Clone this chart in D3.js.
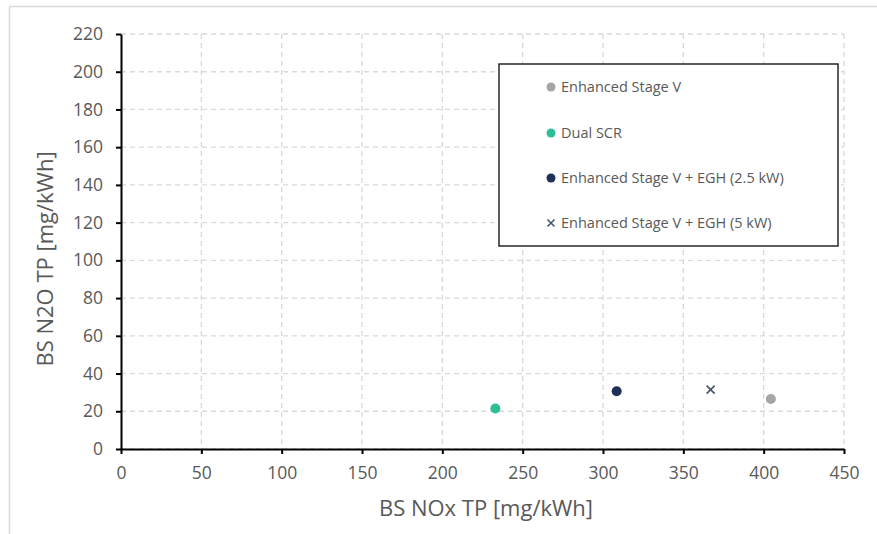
<!DOCTYPE html>
<html lang="en">
<head>
<meta charset="utf-8">
<title>BS N2O vs BS NOx</title>
<script src="https://cdn.jsdelivr.net/npm/d3@7"></script>
<style>
  body { margin: 0; background: #fff; }
  text { font-family: "Open Sans", "Noto Sans", sans-serif; }
</style>
</head>
<body>
<script>
// data
var seriesNames = ["Enhanced Stage V", "Dual SCR", "Enhanced Stage V + EGH (2.5 kW)", "Enhanced Stage V + EGH (5 kW)"];
var noxValues = [404.5, 233, 308.5, 367];
var n2oValues = [26.5, 21.5, 30.6, 31.5];
var seriesColors = ["#A5A5A5", "#2DBE97", "#1F3057", "#44546A"];
var seriesShapes = ["circle", "circle", "circle", "cross"];
var xTicks = [0, 50, 100, 150, 200, 250, 300, 350, 400, 450];
var yTicks = [0, 20, 40, 60, 80, 100, 120, 140, 160, 180, 200, 220];

var w = 877, h = 534;
var plotL = 121, plotR = 844, plotT = 34, plotB = 449;

var svg = d3.select("body").append("svg")
  .attr("width", w)
  .attr("height", h);

// outer frame (only top + left edges show)
svg.append("line").attr("x1", 9.5).attr("x2", w).attr("y1", 6.5).attr("y2", 6.5)
  .attr("stroke", "#D9D9D9").attr("stroke-width", 1.5);
svg.append("line").attr("x1", 9.5).attr("x2", 9.5).attr("y1", 6.5).attr("y2", h)
  .attr("stroke", "#D9D9D9").attr("stroke-width", 1.5);

var x = d3.scaleLinear().domain([0, 450]).range([plotL, plotR]);
var y = d3.scaleLinear().domain([0, 220]).range([plotB, plotT]);

// dashed grid
svg.append("g").selectAll("line")
  .data(xTicks.slice(1))
  .enter().append("line")
  .attr("x1", function(d) { return x(d); })
  .attr("x2", function(d) { return x(d); })
  .attr("y1", plotT).attr("y2", plotB)
  .attr("stroke", "#D9D9D9").attr("stroke-width", 1.3)
  .attr("stroke-dasharray", "5,4");
svg.append("g").selectAll("line")
  .data(yTicks)
  .enter().append("line")
  .attr("x1", plotL).attr("x2", plotR)
  .attr("y1", function(d) { return y(d); })
  .attr("y2", function(d) { return y(d); })
  .attr("stroke", "#D9D9D9").attr("stroke-width", 1.3)
  .attr("stroke-dasharray", "5,4");

// axes
var xAxis = svg.append("g")
  .attr("transform", "translate(0," + plotB + ")")
  .call(d3.axisBottom(x).tickValues(xTicks).tickSize(5).tickSizeOuter(0).tickPadding(13));
var yAxis = svg.append("g")
  .attr("transform", "translate(" + plotL + ",0)")
  .call(d3.axisLeft(y).tickValues(yTicks).tickSize(5).tickSizeOuter(0).tickPadding(13));

[xAxis, yAxis].forEach(function(a) {
  a.select(".domain").attr("stroke", "#000").attr("stroke-width", 2);
  a.selectAll(".tick line").attr("stroke", "#000").attr("stroke-width", 2);
  a.selectAll(".tick text")
    .attr("fill", "#595959")
    .attr("font-size", "17.5px")
    .attr("font-family", "'Open Sans', sans-serif");
});

// axis titles
svg.append("text")
  .attr("x", 486)
  .attr("y", 516)
  .attr("text-anchor", "middle")
  .attr("font-size", "22px")
  .attr("fill", "#595959")
  .text("BS NOx TP [mg/kWh]");
svg.append("text")
  .attr("transform", "translate(53,259) rotate(-90)")
  .attr("text-anchor", "middle")
  .attr("font-size", "22px")
  .attr("fill", "#595959")
  .text("BS N2O TP [mg/kWh]");

// points
var pts = d3.range(noxValues.length);
function drawMark(sel, shape, color, r) {
  if (shape === "cross") {
    sel.append("path")
      .attr("d", "M" + (-r) + "," + (-r) + "L" + r + "," + r + "M" + (-r) + "," + r + "L" + r + "," + (-r))
      .attr("stroke", color).attr("stroke-width", 1.6).attr("fill", "none");
  } else {
    sel.append("circle").attr("r", r).attr("fill", color);
  }
}
pts.forEach(function(i) {
  var g = svg.append("g")
    .attr("transform", "translate(" + x(noxValues[i]) + "," + y(n2oValues[i]) + ")");
  drawMark(g, seriesShapes[i], seriesColors[i], seriesShapes[i] === "cross" ? 4 : 5);
});

// legend
svg.append("rect")
  .attr("x", 499).attr("y", 64)
  .attr("width", 339).attr("height", 182)
  .attr("fill", "#fff")
  .attr("stroke", "#262626").attr("stroke-width", 1.5);

var legendRowY = [87, 133, 178, 223];
pts.forEach(function(i) {
  var g = svg.append("g").attr("transform", "translate(551," + legendRowY[i] + ")");
  drawMark(g, seriesShapes[i], seriesColors[i], seriesShapes[i] === "cross" ? 3.5 : 4.5);
  g.append("text")
    .attr("x", 10).attr("y", 5)
    .attr("font-size", "14.5px")
    .attr("fill", "#595959")
    .text(seriesNames[i]);
});
</script>
</body>
</html>
